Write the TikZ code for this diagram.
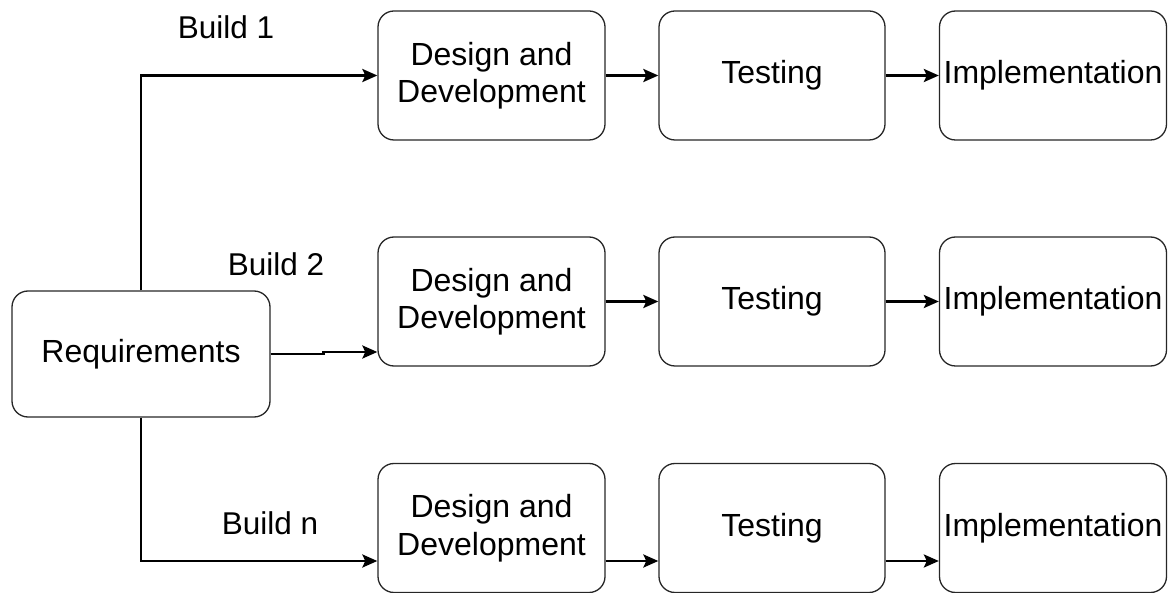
\documentclass[tikz,border=0pt]{standalone}
\usepackage{fontspec}
\setmainfont{Liberation Sans}
\usetikzlibrary{arrows.meta}
\begin{document}
\begin{tikzpicture}[x=1pt,y=-1pt,
  box/.style={draw=black!85,line width=1.3pt,rounded corners=16pt,align=center,
    inner sep=0pt,font=\fontsize{32}{37.5}\selectfont},
  ddbox/.style={box,minimum width=227pt,minimum height=129pt},
  tsbox/.style={box,minimum width=226pt,minimum height=129pt},
  imbox/.style={box,minimum width=227pt,minimum height=129pt},
  lbl/.style={inner sep=0pt,font=\fontsize{31.5}{37}\selectfont},
  conn/.style={line width=2.8pt,-{Stealth[length=15pt,width=13pt,inset=3pt]}}]
\useasboundingbox (0,0) rectangle (1168,593);
\node[box,minimum width=258pt,minimum height=126pt] (req) at (141,354) {Requirements};
% row 1
\node[ddbox] (dd1) at (491.5,75.5) {Design and\\Development};
\node[tsbox] (ts1) at (772,75.5) {Testing};
\node[imbox] (im1) at (1053,75.5) {Implementation};
% row 2
\node[ddbox] (dd2) at (491.5,301.5) {Design and\\Development};
\node[tsbox] (ts2) at (772,301.5) {Testing};
\node[imbox] (im2) at (1053,301.5) {Implementation};
% row 3
\node[ddbox] (dd3) at (491.5,528) {Design and\\Development};
\node[tsbox] (ts3) at (772,528) {Testing};
\node[imbox] (im3) at (1053,528) {Implementation};
% labels
\node[lbl] (b1) at (226,27) {Build 1};
\node[lbl] (b2) at (276,264) {Build 2};
\node[lbl] (bn) at (270,523.5) {Build n};
% connectors
\draw[conn] (req.north) |- (dd1.west);
\draw[conn] (req.east) -- ++(53,0) |- ([yshift=-50.5pt]dd2.west);
\draw[conn] (req.south) |- ([yshift=-33pt]dd3.west);
\draw[conn] (dd1) -- (ts1);
\draw[conn] (ts1) -- (im1);
\draw[conn] (dd2) -- (ts2);
\draw[conn] (ts2) -- (im2);
\draw[conn] ([yshift=-33pt]dd3.east) -- ([yshift=-33pt]ts3.west);
\draw[conn] ([yshift=-33pt]ts3.east) -- ([yshift=-33pt]im3.west);
\end{tikzpicture}
\end{document}
